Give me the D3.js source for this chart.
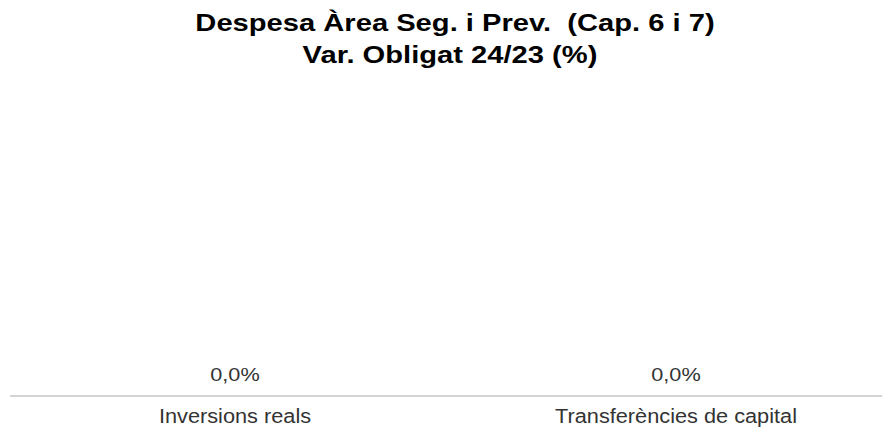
<!DOCTYPE html>
<html lang="ca">
<head>
<meta charset="utf-8">
<title>Despesa Àrea Seg. i Prev.</title>
<script src="https://cdn.jsdelivr.net/npm/d3@7"></script>
<style>
    body { margin: 0; background: #fff; }
</style>
</head>
<body>
<div id="chart"></div>
<script>
    var categories = ["Inversions reals", "Transferències de capital"];
    var values = [0.0, 0.0];
    var titleLines = ["Despesa Àrea Seg. i Prev.  (Cap. 6 i 7)", "Var. Obligat 24/23 (%)"];

    var WIDTH = 882, HEIGHT = 430;
    var BASE_Y = 396;
    var FONT = "Arial, 'Liberation Sans', sans-serif";

    var svg = d3.select("#chart").append("svg")
        .attr("width", WIDTH)
        .attr("height", HEIGHT)
        .style("font-family", FONT);

    // title (source image is a bit stretched horizontally)
    svg.selectAll(".title").data(titleLines)
        .enter().append("text")
        .attr("class", "title")
        .attr("transform", (d, i) => "translate(" + (i === 0 ? 455 : 450) + "," + (31 + i * 32) + ") scale(1.24,1)")
        .attr("text-anchor", "middle")
        .attr("font-size", "23.5px")
        .attr("font-weight", "bold")
        .attr("fill", "#000")
        .style("white-space", "pre")
        .text(d => d);

    var x = d3.scaleBand()
        .domain(categories)
        .range([14.5, 896.5])
        .paddingInner(0.3)
        .paddingOuter(0.15);

    var y = d3.scaleLinear()
        .domain([0, 10])
        .range([BASE_Y, 100]);

    // bars (zero height here)
    svg.selectAll(".bar").data(values)
        .enter().append("rect")
        .attr("class", "bar")
        .attr("x", (d, i) => x(categories[i]))
        .attr("width", x.bandwidth())
        .attr("y", d => y(Math.max(d, 0)))
        .attr("height", d => Math.abs(y(d) - y(0)))
        .attr("fill", "#4f81bd");

    // value labels
    svg.selectAll(".val").data(values)
        .enter().append("text")
        .attr("class", "val")
        .attr("transform", (d, i) => "translate(" + (x(categories[i]) + x.bandwidth() / 2) + "," + (y(Math.max(d, 0)) - 15) + ") scale(1.24,1)")
        .attr("text-anchor", "middle")
        .attr("font-size", "17.5px")
        .attr("fill", "#333")
        .text(d => d.toFixed(1).replace(".", ",") + "%");

    // baseline
    svg.append("line")
        .attr("x1", 10).attr("x2", WIDTH)
        .attr("y1", y(0)).attr("y2", y(0))
        .attr("stroke", "#d4d4d4")
        .attr("stroke-width", 2);

    // category labels
    var xAxis = d3.axisBottom(x).tickSize(0);
    var gx = svg.append("g")
        .attr("transform", "translate(0," + y(0) + ")")
        .call(xAxis);
    gx.attr("font-family", null);
    gx.select(".domain").remove();
    gx.selectAll("text")
        .attr("y", 27)
        .attr("dy", null)
        .attr("transform", "scale(1.115,1)")
        .attr("font-size", "19.5px")
        .attr("fill", "#333");
</script>
</body>
</html>
